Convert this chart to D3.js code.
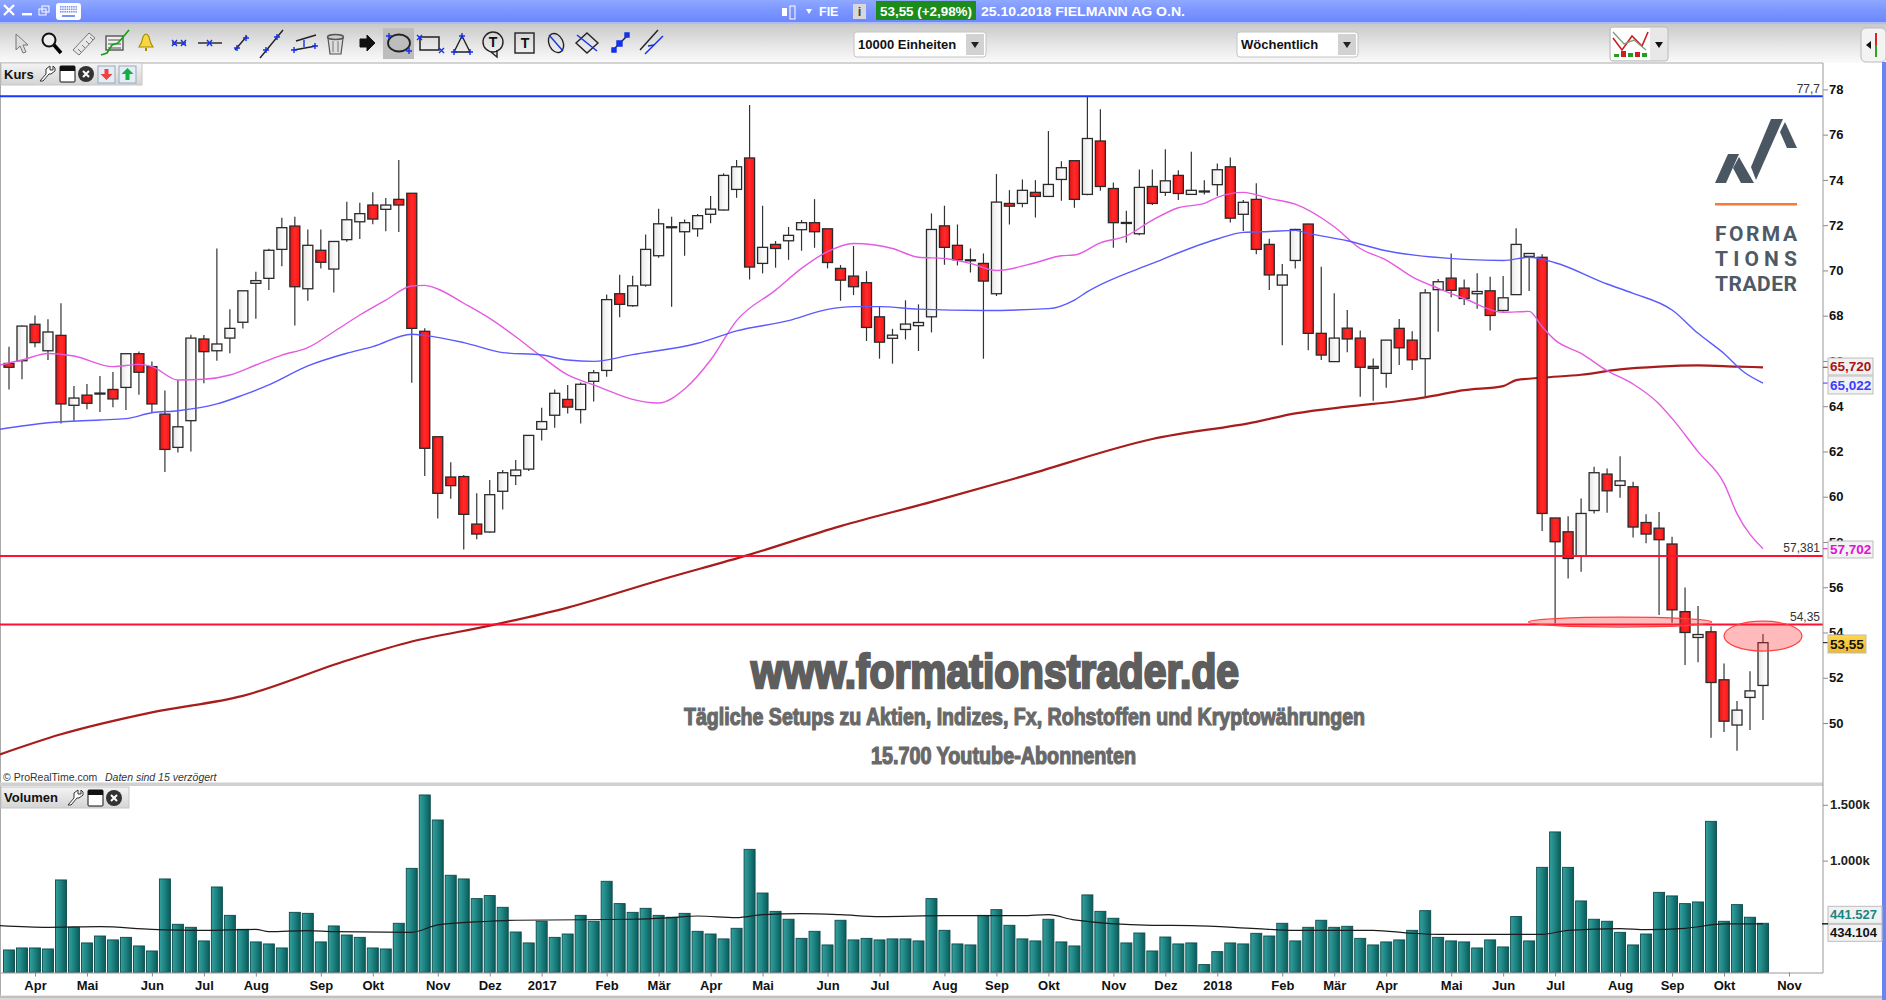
<!DOCTYPE html>
<html><head><meta charset="utf-8">
<script src="https://cdn.jsdelivr.net/npm/d3@7"></script>
<style>html,body{margin:0;padding:0;background:#fff;overflow:hidden}svg{display:block}text{font-family:"Liberation Sans",Arial,sans-serif}</style>
</head><body><svg id="c" width="1886" height="1000"></svg>
<script>
// ---------- data ----------
const opens=[65.89,66.01,67.62,66.45,67.13,64.04,64.49,64.55,64.74,64.83,
66.32,65.75,63.65,62.18,63.36,66.97,66.45,67.01,67.71,69.43,
69.65,70.93,71.96,69.19,70.89,70.06,71.36,72.15,72.89,72.70,
73.14,73.41,67.31,62.65,60.87,60.89,58.79,58.44,60.24,60.93,
61.22,62.98,63.60,64.30,63.85,65.10,65.58,68.97,68.44,69.35,
70.65,71.90,71.71,71.84,72.48,72.67,73.58,74.97,70.31,71.15,
71.31,71.80,72.11,71.84,70.09,69.75,69.46,67.95,67.00,67.39,
67.56,67.95,71.97,71.11,70.47,70.31,68.97,72.96,72.96,73.45,
73.27,74.02,74.85,73.36,75.72,73.62,72.09,71.62,73.71,73.45,
74.20,73.36,73.48,73.79,74.58,72.48,73.14,71.15,69.35,70.44,
72.05,67.22,65.97,67.45,67.01,65.76,65.45,67.44,66.92,66.10,
69.15,69.66,69.22,68.97,69.10,68.23,68.93,70.62,70.58,59.06,
58.45,57.38,59.39,61.00,60.50,60.44,58.86,58.61,57.91,54.92,
53.78,54.03,51.91,49.91,51.13,51.66];
const highs=[66.63,67.57,68.01,67.84,68.55,64.89,64.98,65.33,65.51,66.32,
66.42,65.98,64.69,65.16,67.16,67.15,70.97,68.28,69.10,69.94,
70.96,72.33,72.37,71.81,71.81,71.28,73.04,72.99,73.46,73.20,
74.88,73.41,67.44,62.65,61.52,60.96,60.15,60.74,61.18,61.62,
62.71,63.93,64.74,64.94,65.05,65.60,68.94,69.81,69.77,71.59,
72.73,72.37,72.25,72.49,73.29,74.29,74.88,77.31,72.86,71.30,
71.92,72.23,73.15,71.84,70.24,71.08,69.97,68.40,67.42,68.68,
68.50,72.52,72.86,72.03,70.97,70.75,74.26,73.55,74.02,73.99,
76.16,74.83,74.85,77.68,77.12,73.89,72.64,74.46,74.46,75.35,
74.43,75.24,73.99,74.73,74.99,73.11,73.85,71.40,70.28,71.84,
72.06,70.16,68.99,68.25,67.34,66.11,66.92,67.85,67.31,69.18,
69.62,70.75,69.60,69.87,69.72,69.75,71.86,70.75,70.71,59.06,
59.14,59.92,61.32,61.25,61.79,60.66,59.23,59.32,58.23,55.99,
55.17,54.28,52.63,50.97,52.29,53.93];
const lows=[64.74,65.19,66.60,66.04,63.24,63.36,63.86,63.74,63.95,63.83,
64.51,63.71,61.09,61.95,62.00,65.01,66.01,66.34,67.43,67.87,
69.13,70.18,67.57,68.66,70.08,69.02,71.27,71.39,72.04,71.73,
71.70,65.04,60.91,59.04,59.91,57.67,58.12,58.41,59.44,60.52,
61.14,62.48,63.05,63.68,63.23,64.21,65.30,67.93,68.40,69.28,
70.56,68.40,70.65,71.49,72.08,72.65,73.21,69.60,69.87,70.12,
70.47,70.87,71.00,70.09,68.66,68.91,66.88,66.10,65.88,66.95,
66.44,67.26,70.25,70.22,69.91,66.10,68.87,72.03,72.79,72.34,
73.25,73.08,72.77,73.32,73.52,71.00,71.22,71.55,72.89,73.29,
73.11,73.35,73.35,73.29,72.12,71.74,70.72,69.13,66.69,70.08,
66.47,66.04,65.95,66.38,64.42,64.24,64.82,65.82,65.60,64.42,
67.29,68.81,68.47,68.31,67.34,68.18,68.93,69.09,58.48,54.40,
56.39,56.68,59.26,59.29,59.95,58.20,57.94,54.77,54.43,52.56,
52.69,49.35,49.60,48.77,49.69,50.13];
const closes=[65.72,67.54,66.81,67.28,64.10,64.36,64.13,64.58,64.32,66.32,
65.50,64.10,62.09,63.09,67.01,66.41,66.75,67.44,69.10,69.55,
70.89,71.89,69.28,71.11,70.36,71.28,72.24,72.51,72.27,72.89,
72.89,67.44,62.14,60.15,60.49,59.22,58.35,60.09,61.06,61.18,
62.71,63.32,64.57,63.96,64.97,65.48,68.71,68.50,69.32,70.93,
72.06,71.93,72.11,72.42,72.71,74.20,74.58,70.15,71.02,70.97,
71.55,72.11,71.71,70.35,69.57,69.28,67.48,66.83,67.14,67.63,
67.70,71.81,71.02,70.47,70.44,69.53,73.02,72.84,73.54,73.27,
73.80,74.54,73.14,75.83,73.71,72.11,72.12,73.67,72.96,73.96,
73.40,73.54,73.51,74.45,72.31,73.01,70.93,69.80,69.80,71.81,
67.22,66.26,67.01,66.97,65.72,65.67,66.92,66.58,66.05,69.01,
69.50,69.12,68.76,69.07,68.01,68.79,71.15,70.75,59.26,58.01,
57.27,59.26,61.06,60.26,60.70,58.66,58.35,58.10,55.00,54.00,
53.91,51.79,50.08,50.57,51.42,53.55];
const volumes=[200,218,218,209,827,403,263,325,290,313,236,191,836,430,403,281,764,510,385,272,254,218,537,528,272,415,334,313,218,209,439,931,1588,1364,869,836,660,687,582,361,263,457,313,343,510,457,815,615,537,
573,510,493,528,367,343,299,394,1101,710,546,475,304,367,245,466,290,304,290,299,299,281,660,376,254,245,510,561,421,299,281,475,272,236,693,546,484,263,352,191,316,254,263,69,185,263,254,349,
325,439,281,403,466,403,412,304,245,272,290,376,552,313,281,272,218,290,227,499,281,940,1257,940,639,475,457,358,245,343,716,684,615,630,1352,457,606,493,439];

const blueIdx=[-0.7,3,7,9,11,13,16,18,20,23,26,28,31,32,35,38,41,43,45,48,53,56,60,63,65,67,70,75,80,82,83,88,93,95,97,99,100,103,106,112,115,117,119,123,125,128,130,132,133.5,135];
const blueMA=[62.98,63.27,63.39,63.45,63.71,63.80,64.10,64.49,64.94,65.78,66.34,66.63,67.18,67.13,66.81,66.37,66.26,66.04,65.98,66.28,66.78,67.33,67.78,68.28,68.40,68.40,68.29,68.23,68.31,68.69,69.06,70.31,71.39,71.68,71.72,71.77,71.64,71.31,70.87,70.49,70.44,70.58,70.34,69.40,68.99,68.25,67.22,66.33,65.52,65.02];
const magentaIdx=[-0.7,1,3,5,8,10,11,13,15,17,19,21,23,25,27,29,31,32,33,35,37,39,41,43,45,47,48,50,52,54,56,59,61,63,65,68,70,72,74,76,79,81,82,84,86,88,90,92,93,95,97,99,102,104,106,108,110,112,115,117,118,119,121,123,125,127,128,130,132,133,135];
const magentaMA=[65.82,66.04,66.33,66.22,65.75,65.85,65.75,65.16,65.19,65.38,65.82,66.26,66.59,67.29,68.03,68.69,69.31,69.34,69.18,68.55,67.88,67.07,66.19,65.38,64.94,64.49,64.30,64.14,64.76,66.04,67.78,69.13,70.09,70.83,71.19,70.97,70.58,70.53,70.31,70.00,70.34,70.65,70.68,71.22,71.53,72.22,72.77,72.96,73.23,73.45,73.18,72.93,71.93,70.97,70.46,69.72,69.21,68.76,68.15,68.19,67.51,66.92,66.33,65.57,64.98,64.10,63.46,61.99,60.59,59.25,57.70];
const darkRedIdx=[-0.7,4,11,18,26,31,37,43,50,57,64,71,78,88,96,99,103,107,109,112,115,116,118,121,124,127,130,133,135];
const darkRedMA=[48.61,49.5,50.47,51.2,52.76,53.6,54.3,55.1,56.3,57.44,58.7,59.77,60.9,62.55,63.31,63.68,63.98,64.23,64.39,64.71,64.89,65.15,65.26,65.39,65.63,65.75,65.80,65.75,65.72];
const volMaIdx=[-0.7,3,7,11,15,19,20,23,25,31,33,37,39,48,51,53,56,58,61,64,67,72,78,80,82,88,91,96,99,105,108,110,118,120,124,126,129,132,135];
const volMA=[418,403,409,385,376,385,364,373,364,358,424,457,466,475,490,504,490,516,525,516,499,507,507,516,469,421,418,391,376,376,349,340,340,376,391,382,394,433,434];

const tickIdx=[2,6,11,15,19,24,28,33,37,41,46,50,54,58,63,67,72,76,80,85,89,93,98,102,106,111,115,119,124,128,132,137];
const tickLabels=["Apr","Mai","Jun","Jul","Aug","Sep","Okt","Nov","Dez","2017","Feb","Mär","Apr","Mai","Jun","Jul","Aug","Sep","Okt","Nov","Dez","2018","Feb","Mär","Apr","Mai","Jun","Jul","Aug","Sep","Okt","Nov"];
const priceTicks=[50,52,54,56,58,60,62,64,66,68,70,72,74,76,78];
const volTicks=[1000,1500];
const hLines=[{p:77.7,c:"#1638ff",t:"77,7"},{p:57.381,c:"#ff1030",t:"57,381"},{p:54.35,c:"#ff1030",t:"54,35"}];
const ellipses=[{i:124,p:54.46,di:7.05,dp:0.22},{i:135,p:53.84,di:3.0,dp:0.66}];
const priceLabels=[{v:65.72,t:"65,720",c:"#a81616",fill:"#f1f1f1",h:17,w:45},{v:65.022,t:"65,022",c:"#3c3cff",fill:"#f1f1f1",h:18,w:45},{v:57.702,t:"57,702",c:"#e010d8",fill:"#f3f3f3",h:17,w:45},{v:53.55,t:"53,55",c:"#111",fill:"#f4c63a",h:18,w:38}];
const volLabels=[{v:441.527,t:"441.527",c:"#1a8484",off:-9},{v:434.104,t:"434.104",c:"#111",off:9}];

// ---------- layout ----------
const svg=d3.select("#c");
const X0=9,X1=1763,AX=1823;
const x=d3.scaleLinear().domain([0,135]).range([X0,X1]);
const y=d3.scaleLinear().domain([50,78]).range([723,89.4]);
const yv=d3.scaleLinear().domain([0,1500]).range([972.3,804.8]);
const defs=svg.append("defs");
defs.append("clipPath").attr("id","plot").append("rect").attr("x",0).attr("y",63).attr("width",AX).attr("height",935);
function grad(id,stops,hz){const g=defs.append("linearGradient").attr("id",id);
  if(hz){g.attr("x1",0).attr("x2",1).attr("y1",0).attr("y2",0)}else{g.attr("x1",0).attr("x2",0).attr("y1",0).attr("y2",1)}
  stops.forEach((s,k)=>g.append("stop").attr("offset",k/(stops.length-1)).attr("stop-color",s));}
grad("titleG",["#8fa8ff","#7a94ff","#6c86fa"]);
grad("toolG",["#c9c9c9","#e4e4e4","#fbfbfb"]);
grad("redG",["#e41414","#ff2a2a","#ff1414"],true);
grad("whiteG",["#e6e6e6","#f7f7f7","#ffffff"],true);
grad("tealG",["#35a09e","#1c8280","#0a5a5a"],true);
grad("boxG",["#f4f4f4","#d4d4d4"]);
grad("goldG",["#ffd84e","#eeb92c"]);

// window chrome
svg.append("rect").attr("width",1886).attr("height",1000).attr("fill","#fff");
svg.append("rect").attr("width",1886).attr("height",23).attr("fill","url(#titleG)");
svg.append("rect").attr("y",22).attr("width",1886).attr("height",2).attr("fill","#a9bcff");
svg.append("rect").attr("y",24).attr("width",1886).attr("height",39).attr("fill","url(#toolG)");
svg.append("rect").attr("y",62.5).attr("width",1823).attr("height",1).attr("fill","#a9a9a9");
const title=svg.append("g");
title.append("path").attr("d","M4 5L14 15M14 5L4 15").attr("stroke","#fff").attr("stroke-width",2.4).attr("fill","none");
title.append("rect").attr("x",22).attr("y",13).attr("width",10).attr("height",2.4).attr("fill","#fff");
title.append("rect").attr("x",39).attr("y",9).attr("width",7).attr("height",6).attr("fill","none").attr("stroke","#fff");
title.append("rect").attr("x",42).attr("y",6).attr("width",7).attr("height",6).attr("fill","none").attr("stroke","#fff");
title.append("rect").attr("x",56).attr("y",3).attr("width",25).attr("height",17).attr("rx",3).attr("fill","#fff");
title.append("g").selectAll("rect").data(d3.range(24)).join("rect").attr("x",d=>60+(d%8)*2.2).attr("y",d=>6+Math.floor(d/8)*2.5).attr("width",1.5).attr("height",1.6).attr("fill","#7a94ff");
title.append("rect").attr("x",62).attr("y",15).attr("width",13).attr("height",2).attr("fill","#7a94ff");
title.append("rect").attr("x",782).attr("y",8).attr("width",5).attr("height",8).attr("fill","#fff");
title.append("rect").attr("x",790).attr("y",6).attr("width",5).attr("height",13).attr("fill","none").attr("stroke","#fff");
title.append("path").attr("d","M806 9L812 9L809 14Z").attr("fill","#fff");
title.append("text").attr("x",819).attr("y",16).attr("fill","#fff").attr("font-size",12.5).attr("font-weight","bold").text("FIE");
title.append("rect").attr("x",853).attr("y",4).attr("width",13).attr("height",15).attr("fill","#d8d8d8");
title.append("text").attr("x",859.5).attr("y",16).attr("text-anchor","middle").attr("fill","#444").attr("font-size",13).attr("font-weight","bold").text("i");
title.append("rect").attr("x",876).attr("y",1).attr("width",100).attr("height",19).attr("fill","#1c8c1c");
title.append("text").attr("x",880).attr("y",15.5).attr("fill","#fff").attr("font-size",12.5).attr("font-weight","bold").attr("textLength",92).attr("lengthAdjust","spacingAndGlyphs").text("53,55 (+2,98%)");
title.append("text").attr("x",981).attr("y",15.5).attr("fill","#fff").attr("font-size",12.5).attr("font-weight","bold").attr("textLength",204).attr("lengthAdjust","spacingAndGlyphs").text("25.10.2018 FIELMANN AG O.N.");

// toolbar icons
const tb=svg.append("g").attr("fill","none").attr("stroke","#222").attr("stroke-width",1.4);
tb.append("rect").attr("x",383).attr("y",28).attr("width",31).attr("height",31).attr("fill","#bdbdbd").attr("stroke","none");
const B="#1530e8";
function p(d,s,f,w){return tb.append("path").attr("d",d).attr("stroke",s||"#222").attr("fill",f||"none").attr("stroke-width",w||1.4)}
function cross(cx,cy){p(`M${cx-3} ${cy}h6M${cx} ${cy-3}v6`,B)}
p("M16 34L16 50L20 46L23 53L26 52L23 45L28 45Z","#777","#ddd",1);
tb.append("circle").attr("cx",49).attr("cy",40).attr("r",6.5).attr("stroke","#111").attr("stroke-width",2).attr("fill","#eee");p("M54 45L61 53","#000",null,3.5);
p("M73 50L89 33L95 38L79 55Z","#777","#e8e8e8",1);p("M78 49l3 3M82 45l3 3M86 41l3 3M90 37l3 3","#777",null,1);
tb.append("rect").attr("x",106).attr("y",36).attr("width",17).attr("height",14).attr("stroke","#555").attr("fill","#eee");
p("M108 40h13M108 44h13M108 48h13","#555",null,1);
p("M101 55L107 53L112 45L118 43L124 36L129 30","#11a011",null,1.6);
p("M139 47Q142 43 143 37Q146 31 149 37Q150 43 153 47Z","#a48c08","#f7d840",1.2);p("M146 48v3","#a48c08",null,2);
p("M172 43H186");p("M172 40l5 6M177 40l-5 6M181 40l5 6M186 40l-5 6",B);
p("M198 43H222");p("M207 40l5 6M212 40l-5 6",B);
p("M235 50L247 36");cross(237,48);cross(246,38);
p("M260 58L283 30");cross(266,50);cross(277,37);
p("M294 50L316 46M296 41L316 35");cross(294,50);cross(315,46);p("M304 47V40",B);
p("M328 38H343L341 54H330Z","#555","#ddd",1.2);tb.append("ellipse").attr("cx",335.5).attr("cy",37).attr("rx",8).attr("ry",2.5).attr("stroke","#555").attr("fill","#ccc");p("M333 41V52M338 41V52","#777",null,1);
p("M360 39H367V35L375 43L367 51V47H360Z","#111","#111",1);
tb.append("ellipse").attr("cx",399).attr("cy",43).attr("rx",11).attr("ry",8.5).attr("stroke-width",1.8);cross(389,36);cross(409,51);
tb.append("rect").attr("x",420).attr("y",37).attr("width",19).attr("height",13).attr("stroke-width",1.5);p("M417 35l5 5M422 35l-5 5M439 48l5 5M444 48l-5 5",B);
p("M462 36L454 52H470Z");cross(462,36);cross(454,52);cross(470,52);
tb.append("circle").attr("cx",493).attr("cy",42).attr("r",10);p("M491 52L497 57V50");
tb.append("text").attr("x",493).attr("y",47).attr("text-anchor","middle").attr("font-size",14).attr("font-weight","bold").attr("font-family","Liberation Serif").attr("stroke","none").attr("fill","#111").text("T");
tb.append("rect").attr("x",515).attr("y",33).attr("width",19).attr("height",20);
tb.append("text").attr("x",525).attr("y",48).attr("text-anchor","middle").attr("font-size",14).attr("font-weight","bold").attr("font-family","Liberation Serif").attr("stroke","none").attr("fill","#111").text("T");
tb.append("ellipse").attr("cx",556).attr("cy",43).attr("rx",7).attr("ry",10).attr("transform","rotate(-25 556 43)");p("M549 35L563 51",B);
p("M587 33L598 43L587 53L576 43Z");p("M577 35L597 51",B);
p("M612 51L628 35");p("M612 48h4v4h-4zM625 33h4v4h-4zM617 41h5v5h-5z",B,B);
p("M640 50L658 30","#222");p("M645 54L663 36",B);p("M648 46l6 -1",B);

// dropdowns
function drop(x0,x1,label){const g=svg.append("g");
  g.append("rect").attr("x",x0).attr("y",32).attr("width",x1-x0).attr("height",25).attr("rx",3).attr("fill","#fff").attr("stroke","#c4c4c4");
  g.append("rect").attr("x",x1-20).attr("y",34).attr("width",18).attr("height",21).attr("fill","#d2d2d2");
  g.append("path").attr("d",`M${x1-15} 42h8l-4 6z`).attr("fill","#222");
  g.append("text").attr("x",x0+4).attr("y",49).attr("font-size",13).attr("font-weight","bold").attr("fill","#111").text(label);}
drop(854,986,"10000 Einheiten");drop(1237,1358,"Wöchentlich");
svg.append("rect").attr("x",1610).attr("y",27).attr("width",58).attr("height",34).attr("rx",3).attr("fill","#e8e8e8").attr("stroke","#bbb");
svg.append("rect").attr("x",1611).attr("y",28).attr("width",39).attr("height",32).attr("fill","#fff");
svg.append("path").attr("d","M1613 38L1622 50L1632 36L1642 46L1648 32").attr("fill","none").attr("stroke","#cc2020").attr("stroke-width",1.6);
svg.append("path").attr("d","M1613 32L1624 44L1634 40L1646 50").attr("fill","none").attr("stroke","#80a080").attr("stroke-width",1.4);
svg.append("g").selectAll("rect").data([3,6,4,5,4]).join("rect").attr("x",(d,k)=>1614+k*7).attr("y",d=>57-d).attr("width",5).attr("height",d=>d).attr("fill",(d,k)=>k%2?"#cc2020":"#20a020");
svg.append("path").attr("d","M1655 42h8l-4 6z").attr("fill","#111");
svg.append("rect").attr("x",1861).attr("y",28).attr("width",25).attr("height",34).attr("rx",5).attr("fill","#f3f3f3").attr("stroke","#bbb");
svg.append("path").attr("d","M1866 45l5 -4v8z").attr("fill","#111");
svg.append("path").attr("d","M1876 45V33").attr("stroke","#d22").attr("stroke-width",2);
svg.append("path").attr("d","M1876 45V57").attr("stroke","#2a2").attr("stroke-width",2);

// right window frame, separators
svg.append("rect").attr("x",1882).attr("y",62).attr("width",4).attr("height",938).attr("fill","#6a84f2");
svg.append("rect").attr("x",0).attr("y",63).attr("width",1).attr("height",935).attr("fill","#aaa");
svg.append("rect").attr("y",782.5).attr("width",1823).attr("height",3.5).attr("fill","#d0d0d0");
svg.append("rect").attr("y",995.5).attr("width",1882).attr("height",4.5).attr("fill","#d8d8d8");
svg.append("rect").attr("y",996.5).attr("width",1882).attr("height",1).attr("fill","#a8a8a8");

// watermark
const wm=svg.append("g").attr("fill","#5e5e5e").attr("stroke","#5e5e5e").attr("text-anchor","start").attr("font-weight","bold");
wm.append("text").attr("x",751).attr("y",688).attr("font-size",49).attr("stroke-width",2.6).attr("textLength",488).attr("lengthAdjust","spacingAndGlyphs").text("www.formationstrader.de");
wm.append("text").attr("x",684).attr("y",725).attr("font-size",23).attr("stroke-width",1.2).attr("textLength",681).attr("lengthAdjust","spacingAndGlyphs").attr("fill","#696969").attr("stroke","#696969").text("Tägliche Setups zu Aktien, Indizes, Fx, Rohstoffen und Kryptowährungen");
wm.append("text").attr("x",871).attr("y",764).attr("font-size",23).attr("stroke-width",1.2).attr("textLength",265).attr("lengthAdjust","spacingAndGlyphs").attr("fill","#696969").attr("stroke","#696969").text("15.700 Youtube-Abonnenten");

// logo
const lg=svg.append("g").attr("fill","#4a5662");
[[[1715,183],[1728,154],[1739,154],[1726,183]],[[1739,157],[1754,183],[1741,183],[1733,168]],[[1771,119],[1783,119],[1756,180],[1751,167]],[[1785,122],[1797,148],[1787,148],[1780,132]]].forEach(q=>lg.append("path").attr("d",d3.line()(q)+"Z"));
svg.append("rect").attr("x",1715).attr("y",203).attr("width",82).attr("height",2.5).attr("fill","#f47b3a");
[["FORMA",241],["TIONS",266],["TRADER",291]].forEach(t=>svg.append("text").attr("x",1715).attr("y",t[1]).attr("font-size",21).attr("font-weight","700").style("font-family","Roboto").attr("fill","#4e5a66").attr("textLength",82).attr("lengthAdjust","spacing").text(t[0]));

// volume panel
svg.append("g").selectAll("rect").data(volumes).join("rect")
  .attr("x",(d,i)=>x(i)-5.5).attr("width",11).attr("y",d=>yv(d)).attr("height",d=>yv(0)-yv(d))
  .attr("fill","url(#tealG)").attr("stroke","#0c4b4b").attr("stroke-width",0.9);
const volLine=d3.line().x(d=>x(d[0])).y(d=>yv(d[1])).curve(d3.curveMonotoneX);
svg.append("path").attr("clip-path","url(#plot)").attr("d",volLine(volMaIdx.map((k,j)=>[k,volMA[j]]))).attr("fill","none").attr("stroke","#1c1c1c").attr("stroke-width",1.2);

// price panel: indicator lines, horizontal lines, ellipses, candles
const priceLine=d3.line().x(d=>x(d[0])).y(d=>y(d[1])).curve(d3.curveMonotoneX);
function ma(idx,vals,c,w){svg.append("path").attr("clip-path","url(#plot)").attr("d",priceLine(idx.map((k,j)=>[k,vals[j]]))).attr("fill","none").attr("stroke",c).attr("stroke-width",w);}
ma(darkRedIdx,darkRedMA,"#a81c1c",2.2);

const cg=svg.append("g");
const N=opens.length;
cg.selectAll("line").data(d3.range(N)).join("line")
  .attr("x1",i=>x(i)).attr("x2",i=>x(i)).attr("y1",i=>y(highs[i])).attr("y2",i=>y(lows[i]))
  .attr("stroke","#333").attr("stroke-width",1.2);
cg.selectAll("rect").data(d3.range(N)).join("rect")
  .attr("x",i=>x(i)-5).attr("width",10)
  .attr("y",i=>y(Math.max(opens[i],closes[i])))
  .attr("height",i=>Math.max(1,Math.abs(y(opens[i])-y(closes[i]))))
  .attr("fill",i=>closes[i]<opens[i]?"url(#redG)":"url(#whiteG)")
  .attr("stroke","#2a2a2a").attr("stroke-width",1.3);
ma(magentaIdx,magentaMA,"#e55ae0",1.4);
ma(blueIdx,blueMA,"#5a5aff",1.4);

hLines.forEach(h=>{
  svg.append("line").attr("x1",0).attr("x2",AX).attr("y1",y(h.p)).attr("y2",y(h.p)).attr("stroke",h.c).attr("stroke-width",2);
  svg.append("text").attr("x",1820).attr("y",y(h.p)-(h.p>70?3:4)).attr("text-anchor","end").attr("font-size",12).attr("fill","#333").text(h.t);
});
svg.append("g").selectAll("ellipse").data(ellipses).join("ellipse")
  .attr("cx",d=>x(d.i)).attr("cy",d=>y(d.p))
  .attr("rx",d=>x(d.di)-x(0)).attr("ry",d=>y(d.p-d.dp)-y(d.p))
  .attr("fill","#ff3030").attr("fill-opacity",.33).attr("stroke","#ff4040").attr("stroke-width",1.2);

// axes
const axB=d3.axisBottom(x).tickValues(tickIdx).tickFormat((d,k)=>tickLabels[k]).tickSize(4).tickPadding(4);
const gx=svg.append("g").attr("transform","translate(0,972.5)").call(axB);
gx.select(".domain").attr("d","M0.5 0.5H1823").attr("stroke","#999");
gx.selectAll(".tick line").attr("stroke","#888");
gx.selectAll("text").attr("font-size",13).attr("font-weight","bold").attr("fill","#111").style("font-family","Liberation Sans");
const axR=d3.axisRight(y).tickValues(priceTicks).tickFormat(d3.format("d")).tickSize(5).tickPadding(1);
const gy=svg.append("g").attr("transform",`translate(${AX},0)`).call(axR);
gy.select(".domain").remove();
svg.append("line").attr("x1",AX).attr("x2",AX).attr("y1",63).attr("y2",973).attr("stroke","#999");
gy.selectAll(".tick line").attr("stroke","#888");
gy.selectAll("text").attr("font-size",13).attr("font-weight","bold").attr("fill","#111").style("font-family","Liberation Sans");
const axV=d3.axisRight(yv).tickValues(volTicks).tickFormat(d=>d3.format(".3f")(d/1000)+"k").tickSize(5).tickPadding(2);
const gv=svg.append("g").attr("transform",`translate(${AX},0)`).call(axV);
gv.select(".domain").remove();
gv.selectAll(".tick line").attr("stroke","#888");
gv.selectAll("text").attr("font-size",13).attr("font-weight","bold").attr("fill","#222").style("font-family","Liberation Sans");

// value labels at the axis
priceLabels.forEach(l=>{
  const cy=y(l.v);
  svg.append("line").attr("x1",AX).attr("x2",AX+5).attr("y1",cy).attr("y2",cy).attr("stroke",l.c);
});
const boxY={"65,720":358,"65,022":376,"57,702":541,"53,55":635};
priceLabels.forEach(l=>{
  const t=boxY[l.t];
  svg.append("rect").attr("x",1828).attr("y",t).attr("width",l.w).attr("height",l.h).attr("fill",l.t==="53,55"?"url(#goldG)":l.fill).attr("stroke","#bdbdbd");
  svg.append("text").attr("x",1830).attr("y",t+l.h/2+4.6).attr("font-size",13.5).attr("font-weight","bold").attr("fill",l.c).text(l.t);
});
volLabels.forEach(l=>{
  const cy=yv(434.1)+l.off;
  svg.append("rect").attr("x",1828).attr("y",cy-8.5).attr("width",54).attr("height",17).attr("fill","#f1f1f1").attr("stroke","#bdbdbd");
  svg.append("text").attr("x",1830).attr("y",cy+4.6).attr("font-size",13).attr("font-weight","bold").attr("fill",l.c).text(l.t);
});
svg.append("line").attr("x1",AX-1).attr("x2",AX+5).attr("y1",yv(434.1)).attr("y2",yv(434.1)).attr("stroke","#111").attr("stroke-width",1.4);

// panel headers
function header(hgt,top,w,label,icons){
  const g=svg.append("g");
  g.append("rect").attr("x",1).attr("y",top).attr("width",w).attr("height",hgt).attr("fill","url(#boxG)").attr("stroke","#c6c6c6");
  g.append("text").attr("x",4).attr("y",top+hgt/2+4.6).attr("font-size",13).attr("font-weight","bold").attr("fill","#111").text(label);
  const lw=label==="Kurs"?38:66;
  g.append("path").attr("d",`M${lw+2} ${top+18}l6 -7v-5l4 -3v4h3v-4l2 2v3l-4 3h-2l-6 7z`).attr("fill","#fff").attr("stroke","#333");
  g.append("rect").attr("x",lw+22).attr("y",top+3).attr("width",15).attr("height",16).attr("rx",1).attr("fill","#fff").attr("stroke","#111");
  g.append("rect").attr("x",lw+22).attr("y",top+3).attr("width",15).attr("height",5).attr("fill","#111");
  g.append("circle").attr("cx",lw+48).attr("cy",top+11).attr("r",8).attr("fill","#333");
  g.append("path").attr("d",`M${lw+45} ${top+8}l6 6M${lw+51} ${top+8}l-6 6`).attr("stroke","#fff").attr("stroke-width",2);
  icons.forEach((c,k)=>{
    const ix=lw+60+k*21;
    g.append("rect").attr("x",ix).attr("y",top+3).attr("width",17).attr("height",17).attr("fill","#e4ecf6").attr("stroke","#9ab");
    g.append("path").attr("d",k===0?`M${ix+8.5} ${top+17}l-6 -6h4v-5h4v5h4z`:`M${ix+8.5} ${top+5}l-6 6h4v6h4v-6h4z`).attr("fill",c);
  });
}
header(22,63,141,"Kurs",["#f04040","#10b040"]);
header(21,787,128,"Volumen",[]);

svg.append("text").attr("x",3).attr("y",781).attr("font-size",10.5).attr("fill","#333").text("© ProRealTime.com");
svg.append("text").attr("x",105).attr("y",781).attr("font-size",10.5).attr("font-style","italic").attr("fill","#333").text("Daten sind 15 verzögert");
</script></body></html>
